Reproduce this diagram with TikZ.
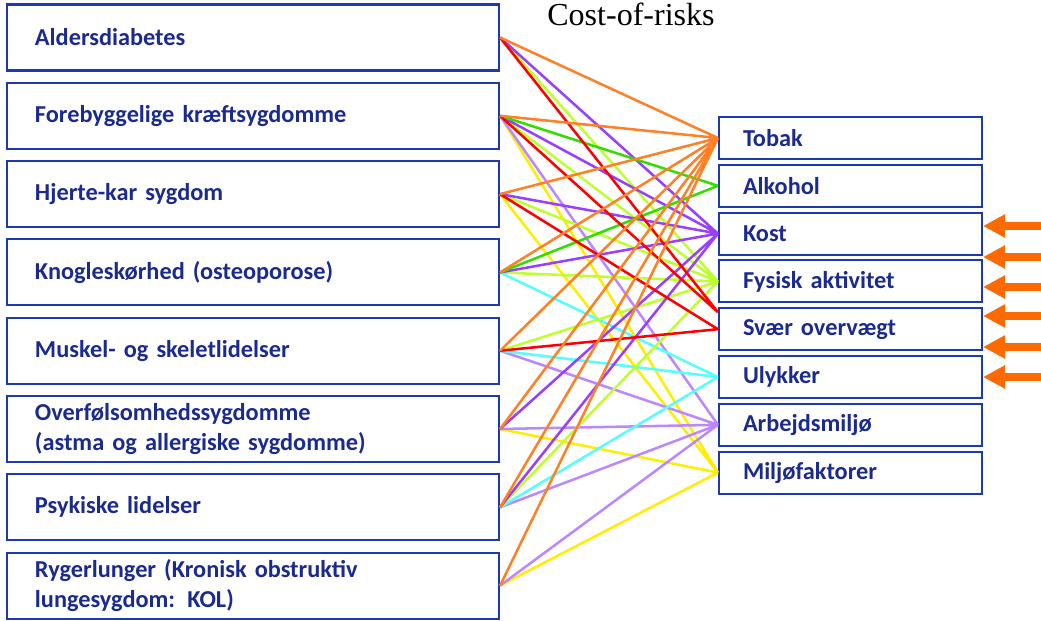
\documentclass[tikz,border=0pt]{standalone}
\usepackage{fontspec}
\setmainfont{Liberation Serif}
\newfontfamily\boxfont{Carlito}
\usetikzlibrary{arrows.meta,calc}
\definecolor{boxline}{HTML}{1E38B0}
\definecolor{boxtext}{HTML}{1A2A8E}
\definecolor{tobak}{HTML}{FF8025}
\definecolor{alkohol}{HTML}{33DD00}
\definecolor{kost}{HTML}{9940FF}
\definecolor{fysisk}{HTML}{BFFF30}
\definecolor{svaer}{HTML}{FF0000}
\definecolor{ulykker}{HTML}{55FFFF}
\definecolor{arbejde}{HTML}{BB88FF}
\definecolor{miljoe}{HTML}{FFEE00}
\definecolor{push}{HTML}{FF6A00}

\begin{document}
\begin{tikzpicture}[
    every node/.style={font=\boxfont\bfseries\fontsize{17.3pt}{21pt}\selectfont, text=boxtext},
    disease/.style={draw=boxline, line width=1.5pt, minimum width=12.3cm, minimum height=1.65cm, inner xsep=0.7cm, text width=10.9cm, align=left},
    risk/.style={draw=boxline, line width=1.5pt, minimum width=6.575cm, minimum height=1.05cm, inner xsep=0.6cm, text width=5.375cm, align=left},
    link/.style={line width=1.8pt},
    bigarrow/.style={draw=push, line width=0.2cm, -{Triangle[width=0.55cm,length=0.55cm]}},
    ]
    \useasboundingbox (0,0) rectangle (26.025,-15.525);

    \node[font=\rmfamily\mdseries\fontsize{22.8pt}{26pt}\selectfont, text=black, anchor=base](title) at(15.775cm,-0.625cm){Cost-of-risks};

    % sygdomme
    \node at(6.325cm,-0.9375cm) [disease](diab){Aldersdiabetes};
    \node at([yshift=-1.9575cm] diab.center) [disease](kraeft){Forebyggelige kræftsygdomme};
    \node at([yshift=-1.9575cm] kraeft.center) [disease](hjerte){Hjerte-kar sygdom};
    \node at([yshift=-1.9575cm] hjerte.center) [disease](knogle){Knogleskørhed (osteoporose)};
    \node at([yshift=-1.9575cm] knogle.center) [disease](muskel){Muskel- og skeletlidelser};
    \node at([yshift=-1.9575cm] muskel.center) [disease](allergi){Overfølsomhedssygdomme\\(astma og allergiske sygdomme)};
    \node at([yshift=-1.9575cm] allergi.center) [disease](psyk){Psykiske lidelser};
    \node at([yshift=-1.9575cm] psyk.center) [disease](kol){Rygerlunger (Kronisk obstruktiv\\lungesygdom: KOL)};

    % risikofaktorer
    \node at(21.2625cm,-3.45cm) [risk](tob){Tobak};
    \node at([yshift=-1.195cm] tob.center) [risk](alk){Alkohol};
    \node at([yshift=-1.195cm] alk.center) [risk](kos){Kost};
    \node at([yshift=-1.195cm] kos.center) [risk](fys){Fysisk aktivitet};
    \node at([yshift=-1.195cm] fys.center) [risk](ovv){Svær overvægt};
    \node at([yshift=-1.195cm] ovv.center) [risk](uly){Ulykker};
    \node at([yshift=-1.195cm] uly.center) [risk](arb){Arbejdsmiljø};
    \node at([yshift=-1.195cm] arb.center) [risk](mil){Miljøfaktorer};
    \coordinate (ovvtop) at ([yshift=0.425cm] ovv.west);

    % forbindelser
    \draw[link, miljoe] (kraeft.east) -- (mil.west) (hjerte.east) -- (mil.west) (allergi.east) -- (mil.west) (kol.east) -- (mil.west);
    \draw[link, arbejde] (kraeft.east) -- (arb.west) (muskel.east) -- (arb.west) (allergi.east) -- (arb.west) (psyk.east) -- (arb.west) (kol.east) -- (arb.west);
    \draw[link, ulykker] (knogle.east) -- (uly.west) (muskel.east) -- (uly.west) (psyk.east) -- (uly.west);
    \draw[link, fysisk] (diab.east) -- (fys.west) (kraeft.east) -- (fys.west) (hjerte.east) -- (fys.west) (knogle.east) -- (fys.west) (muskel.east) -- (fys.west) (psyk.east) -- (fys.west);
    \draw[link, kost] (diab.east) -- (kos.west) (kraeft.east) -- (kos.west) (hjerte.east) -- (kos.west) (knogle.east) -- (kos.west) (allergi.east) -- (kos.west) (psyk.east) -- (kos.west);
    \draw[link, alkohol] (kraeft.east) -- (alk.west) (knogle.east) -- (alk.west);
    \draw[link, svaer] (diab.east) -- (ovvtop) (kraeft.east) -- (ovvtop) (hjerte.east) -- (ovv.west) (muskel.east) -- (ovv.west);
    \draw[link, tobak] (diab.east) -- (tob.west) (kraeft.east) -- (tob.west) (hjerte.east) -- (tob.west) (knogle.east) -- (tob.west) (muskel.east) -- (tob.west) (allergi.east) -- (tob.west) (psyk.east) -- (tob.west) (kol.east) -- (tob.west);

    % pile
    \coordinate (p1) at (26.3cm,-5.65cm);
    \coordinate (p2) at (26.3cm,-6.425cm);
    \coordinate (p3) at (26.3cm,-7.175cm);
    \coordinate (p4) at (26.3cm,-7.9cm);
    \coordinate (p5) at (26.3cm,-8.675cm);
    \coordinate (p6) at (26.3cm,-9.425cm);
    \draw[bigarrow] (p1) -- (p1 -| kos.east);
    \draw[bigarrow] (p2) -- (p2 -| kos.east);
    \draw[bigarrow] (p3) -- (p3 -| kos.east);
    \draw[bigarrow] (p4) -- (p4 -| kos.east);
    \draw[bigarrow] (p5) -- (p5 -| kos.east);
    \draw[bigarrow] (p6) -- (p6 -| kos.east);
\end{tikzpicture}
\end{document}
